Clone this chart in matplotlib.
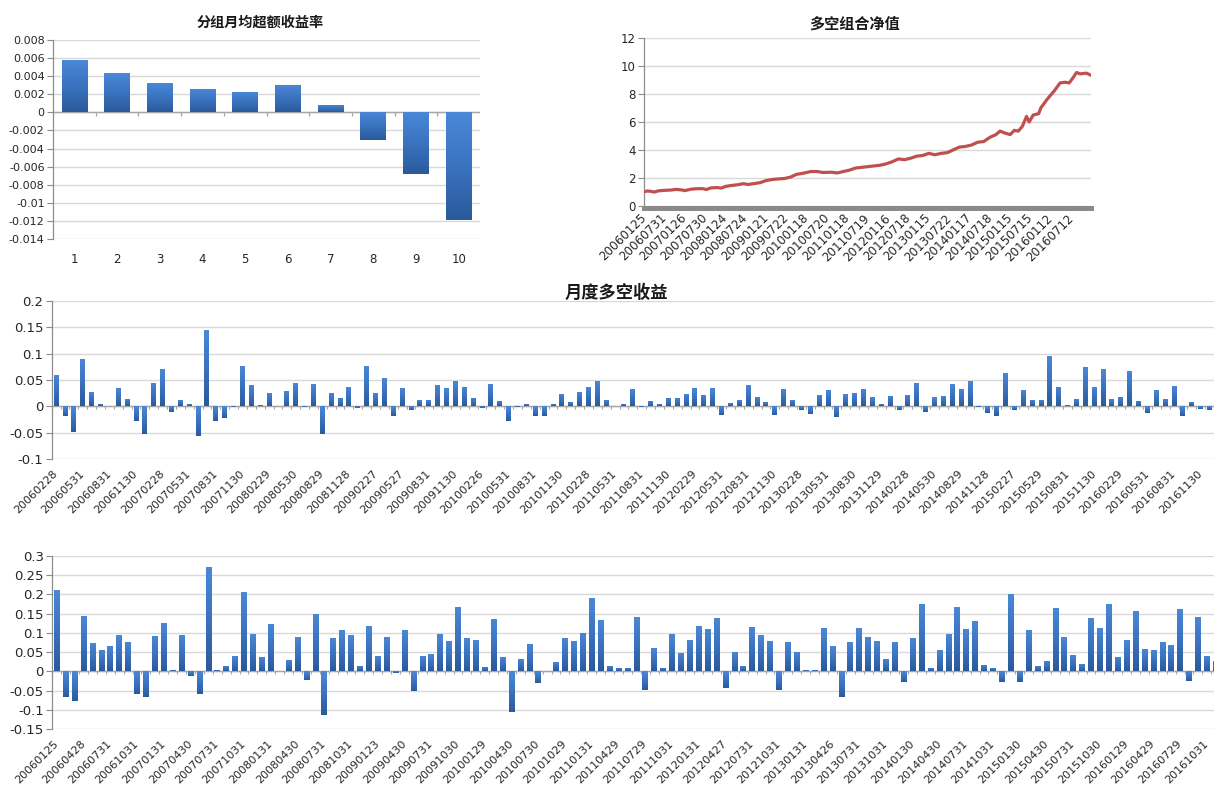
import numpy as np
import matplotlib
matplotlib.use('Agg')
import matplotlib.pyplot as plt
from matplotlib.colors import LinearSegmentedColormap

plt.rcParams['font.family'] = ['DejaVu Sans', 'Noto Sans CJK SC']

# ---------------- data ----------------
group_labels = ['1', '2', '3', '4', '5', '6', '7', '8', '9', '10']
group_excess = [0.0058, 0.0043, 0.0032, 0.0026, 0.0023, 0.0030, 0.0008, -0.0031, -0.0068, -0.0119]
group_yticks = [-0.014, -0.012, -0.01, -0.008, -0.006, -0.004, -0.002, 0, 0.002, 0.004, 0.006, 0.008]
group_yticklabels = ['-0.014', '-0.012', '-0.01', '-0.008', '-0.006', '-0.004', '-0.002', '0',
                     '0.002', '0.004', '0.006', '0.008']

# net value curve, x in half-year units from 20060125
nav_x = [0, 0.15, 0.3, 0.5, 0.7, 1.0, 1.3, 1.6, 1.9, 2.0, 2.3, 2.6, 2.9, 3.05, 3.3, 3.6, 3.8,
         4.0, 4.3, 4.6, 4.9, 5.1, 5.4, 5.7, 6.0, 6.3, 6.6, 6.9, 7.2, 7.5, 7.8, 8.2, 8.5, 8.8,
         9.2, 9.5, 9.8, 10.1, 10.4, 10.7, 11.0, 11.3, 11.6, 11.9, 12.2, 12.5, 12.8, 13.1, 13.4,
         13.7, 14.0, 14.3, 14.6, 14.9, 15.2, 15.5, 15.8, 16.1, 16.4, 16.7, 17.0, 17.3, 17.5,
         17.75, 18.0, 18.2, 18.4, 18.6, 18.8, 18.93, 19.13, 19.4, 19.5, 19.8, 20.03, 20.15,
         20.45, 20.7, 20.9, 21.1, 21.26, 21.43, 21.75, 21.97]
nav_y = [1.0, 1.05, 1.04, 0.98, 1.06, 1.1, 1.12, 1.17, 1.12, 1.08, 1.18, 1.22, 1.22, 1.16, 1.28,
         1.3, 1.26, 1.38, 1.45, 1.5, 1.58, 1.52, 1.58, 1.65, 1.8, 1.88, 1.92, 1.95, 2.05, 2.25,
         2.32, 2.45, 2.45, 2.38, 2.4, 2.35, 2.45, 2.55, 2.7, 2.75, 2.8, 2.85, 2.9, 3.0, 3.15,
         3.35, 3.3, 3.4, 3.55, 3.6, 3.75, 3.65, 3.75, 3.8, 4.0, 4.2, 4.25, 4.35, 4.55, 4.6,
         4.9, 5.1, 5.35, 5.2, 5.1, 5.4, 5.35, 5.7, 6.4, 6.0, 6.5, 6.6, 7.0, 7.6, 8.0, 8.2,
         8.8, 8.85, 8.8, 9.2, 9.55, 9.45, 9.5, 9.35]
nav_ticklabels = ['20060125', '20060731', '20070126', '20070730', '20080124', '20080724',
                  '20090121', '20090722', '20100118', '20100720', '20110118', '20110719',
                  '20120116', '20120718', '20130115', '20130722', '20140117', '20140718',
                  '20150115', '20150715', '20160112', '20160712']
nav_yticks = [0, 2, 4, 6, 8, 10, 12]

monthly_ls = [0.060, -0.018, -0.048, 0.090, 0.028, 0.005, 0.000, 0.034, 0.015, -0.028,
              -0.052, 0.045, 0.070, -0.010, 0.012, 0.005, -0.056, 0.145, -0.027, -0.022,
              -0.001, 0.076, 0.040, 0.003, 0.025, 0.000, 0.030, 0.044, -0.001, 0.042,
              -0.053, 0.025, 0.016, 0.036, -0.003, 0.077, 0.026, 0.053, -0.018, 0.035,
              -0.006, 0.013, 0.0125, 0.041, 0.034, 0.0475, 0.036, 0.016, -0.0025, 0.043,
              0.011, -0.028, -0.002, 0.005, -0.0175, -0.0175, 0.005, 0.024, 0.009, 0.028,
              0.037, 0.0475, 0.013, 0.001, 0.004, 0.033, -0.001, 0.011, 0.0045, 0.016,
              0.016, 0.023, 0.034, 0.022, 0.034, -0.016, 0.007, 0.013, 0.041, 0.017,
              0.009, -0.016, 0.033, 0.013, -0.0075, -0.0145, 0.022, 0.031, -0.020, 0.023,
              0.025, 0.033, 0.017, 0.0045, 0.0205, -0.007, 0.022, 0.045, -0.011, 0.017,
              0.019, 0.042, 0.033, 0.049, -0.002, -0.0125, -0.019, 0.064, -0.0075, 0.032,
              0.012, 0.012, 0.095, 0.037, 0.002, 0.0145, 0.074, 0.037, 0.071, 0.0145,
              0.018, 0.0675, 0.011, -0.0125, 0.032, 0.0145, 0.038, -0.0175, 0.009, -0.005,
              -0.007]
monthly_ticklabels = ['20060228', '20060531', '20060831', '20061130', '20070228', '20070531',
                      '20070831', '20071130', '20080229', '20080530', '20080829', '20081128',
                      '20090227', '20090527', '20090831', '20091130', '20100226', '20100531',
                      '20100831', '20101130', '20110228', '20110531', '20110831', '20111130',
                      '20120229', '20120531', '20120831', '20121130', '20130228', '20130531',
                      '20130830', '20131129', '20140228', '20140530', '20140829', '20141128',
                      '20150227', '20150529', '20150831', '20151130', '20160229', '20160531',
                      '20160831', '20161130']
monthly_yticks = [-0.1, -0.05, 0, 0.05, 0.1, 0.15, 0.2]
monthly_yticklabels = ['-0.1', '-0.05', '0', '0.05', '0.1', '0.15', '0.2']

bottom_vals = [0.210, -0.066, -0.076, 0.144, 0.073, 0.056, 0.066, 0.095, 0.0765, -0.058,
               -0.065, 0.091, 0.125, 0.004, 0.095, -0.011, -0.058, 0.272, 0.005, 0.015,
               0.040, 0.207, 0.098, 0.038, 0.122, 0.000, 0.030, 0.089, -0.021, 0.150,
               -0.113, 0.087, 0.1075, 0.095, 0.013, 0.119, 0.040, 0.089, -0.005, 0.1075,
               -0.051, 0.040, 0.044, 0.096, 0.080, 0.168, 0.087, 0.0825, 0.011, 0.136,
               0.038, -0.104, 0.033, 0.071, -0.030, 0.000, 0.025, 0.087, 0.079, 0.100,
               0.190, 0.134, 0.013, 0.008, 0.008, 0.141, -0.048, 0.060, 0.008, 0.098,
               0.048, 0.0825, 0.119, 0.110, 0.1375, -0.042, 0.050, 0.014, 0.115, 0.095,
               0.080, -0.048, 0.0765, 0.050, 0.004, 0.003, 0.112, 0.066, -0.066, 0.0765,
               0.112, 0.090, 0.078, 0.032, 0.0765, -0.028, 0.087, 0.1745, 0.010, 0.056,
               0.098, 0.1665, 0.110, 0.131, 0.017, 0.0095, -0.028, 0.202, -0.028, 0.108,
               0.014, 0.0275, 0.165, 0.089, 0.043, 0.0205, 0.1375, 0.112, 0.1745, 0.0385,
               0.0815, 0.156, 0.059, 0.056, 0.0765, 0.0695, 0.1615, -0.025, 0.141, 0.040,
               0.026]
bottom_ticklabels = ['20060125', '20060428', '20060731', '20061031', '20070131', '20070430',
                     '20070731', '20071031', '20080131', '20080430', '20080731', '20081031',
                     '20090123', '20090430', '20090731', '20091030', '20100129', '20100430',
                     '20100730', '20101029', '20110131', '20110429', '20110729', '20111031',
                     '20120131', '20120427', '20120731', '20121031', '20130131', '20130426',
                     '20130731', '20131031', '20140130', '20140430', '20140731', '20141031',
                     '20150130', '20150430', '20150731', '20151030', '20160129', '20160429',
                     '20160729', '20161031']
bottom_yticks = [-0.15, -0.1, -0.05, 0, 0.05, 0.1, 0.15, 0.2, 0.25, 0.3]
bottom_yticklabels = ['-0.15', '-0.1', '-0.05', '0', '0.05', '0.1', '0.15', '0.2', '0.25', '0.3']

# ---------------- style ----------------
W, H = 1214, 790
GRID = '#d9d9d9'
AXC = '#8c8c8c'
ZERO = '#a6a6a6'
TXT = '#262626'
CJK = ['Noto Sans CJK SC', 'DejaVu Sans']
cmap = LinearSegmentedColormap.from_list('blu', ['#2b5a9b', '#3a73bf', '#4a88d8'])

fig = plt.figure(figsize=(W / 100, H / 100), dpi=100)


def rect(l, t, r, b):
    return [l / W, 1 - b / H, (r - l) / W, (b - t) / H]


def grad_bars(ax, x, h, width):
    bars = ax.bar(x, h, width, color='#3a73bf', edgecolor='none', zorder=2)
    g = np.linspace(0, 1, 64).reshape(-1, 1)
    for b in bars:
        hh = b.get_height()
        if hh == 0:
            continue
        x0, y0 = b.get_x(), b.get_y()
        lo, hi = min(y0, y0 + hh), max(y0, y0 + hh)
        im = ax.imshow(g, extent=[x0, x0 + b.get_width(), lo, hi], origin='lower',
                       cmap=cmap, aspect='auto', zorder=3, interpolation='bilinear')
        im.set_clip_path(b)
    return bars


def base_style(ax, yticks, yticklabels, ylim, ysize):
    for s in ['top', 'right', 'bottom']:
        ax.spines[s].set_visible(False)
    ax.spines['left'].set_color(AXC)
    ax.spines['left'].set_linewidth(0.9)
    ax.set_ylim(ylim)
    ax.set_yticks(yticks)
    ax.set_yticklabels(yticklabels)
    ax.grid(axis='y', color=GRID, lw=1.0)
    ax.set_axisbelow(True)
    ax.tick_params(axis='y', length=4, width=0.8, color=AXC, labelsize=ysize,
                   labelcolor=TXT, pad=2)
    ax.tick_params(axis='x', length=0, labelcolor=TXT)


# ---- top-left: group average excess return ----
ax1 = fig.add_axes(rect(53, 40, 480, 239))
xg = np.arange(1, len(group_excess) + 1)
grad_bars(ax1, xg, group_excess, 0.6)
base_style(ax1, group_yticks, group_yticklabels, (-0.014, 0.008), 8)
ax1.axhline(0, color=ZERO, lw=1.0, zorder=1.5)
ax1.vlines(np.arange(0.5, len(group_excess) + 1), -0.00045, 0, color=ZERO, lw=0.9, zorder=1.5)
ax1.set_xlim(0.5, len(group_excess) + 0.5)
ax1.set_xticks(xg)
ax1.set_xticklabels(group_labels, fontsize=8.5)
ax1.tick_params(axis='x', pad=10)
fig.text(260 / W, 1 - 23 / H, '分组月均超额收益率', ha='center', va='center',
         fontsize=10.2, fontweight='bold', family=CJK, color='#1a1a1a')

# ---- top-right: long-short net value ----
ax2 = fig.add_axes(rect(644, 38.3, 1091, 205.7))
ax2.plot(nav_x, nav_y, color='#c0504d', lw=2.3, zorder=3, solid_joinstyle='round')
base_style(ax2, nav_yticks, [str(v) for v in nav_yticks], (0, 12), 8.5)
ax2.spines['bottom'].set_visible(True)
ax2.spines['bottom'].set_color('#8a8a8a')
ax2.spines['bottom'].set_linewidth(3.6)
ax2.spines['bottom'].set_position(('outward', 1.5))
ax2.set_xlim(0, 21.97)
ax2.set_xticks(np.arange(len(nav_ticklabels)))
ax2.set_xticklabels(nav_ticklabels, rotation=45, ha='right', va='center',
                    rotation_mode='anchor', fontsize=8.6)
ax2.tick_params(axis='x', length=0, pad=6)
fig.text(855 / W, 1 - 24 / H, '多空组合净值', ha='center', va='center',
         fontsize=10.9, fontweight='bold', family=CJK, color='#1a1a1a')

# ---- middle: monthly long-short return ----
ax3 = fig.add_axes(rect(51.7, 300.7, 1214, 459.3))
xm = np.arange(len(monthly_ls))
grad_bars(ax3, xm, monthly_ls, 0.56)
base_style(ax3, monthly_yticks, monthly_yticklabels, (-0.1, 0.2), 9.5)
ax3.axhline(0, color=ZERO, lw=1.0, zorder=1.5)
ax3.vlines(np.arange(-0.5, len(monthly_ls)), -0.005, 0, color=ZERO, lw=0.8, zorder=1.5)
ax3.set_xlim(-0.5, len(monthly_ls) - 0.5)
ax3.set_xticks(np.arange(0, len(monthly_ls), 3))
ax3.set_xticklabels(monthly_ticklabels, rotation=45, ha='right', va='center',
                    rotation_mode='anchor', fontsize=8.0)
ax3.tick_params(axis='x', pad=9)
fig.text(616 / W, 1 - 293 / H, '月度多空收益', ha='center', va='center',
         fontsize=12.4, fontweight='bold', family=CJK, color='#1a1a1a')

# ---- bottom ----
ax4 = fig.add_axes(rect(52.3, 555.7, 1214, 729.3))
xb = np.arange(len(bottom_vals))
grad_bars(ax4, xb, bottom_vals, 0.62)
base_style(ax4, bottom_yticks, bottom_yticklabels, (-0.15, 0.3), 9.5)
ax4.axhline(0, color=ZERO, lw=1.0, zorder=1.5)
ax4.vlines(np.arange(-0.5, len(bottom_vals)), -0.007, 0, color=ZERO, lw=0.8, zorder=1.5)
ax4.set_xlim(-0.5, 129.8)
ax4.set_xticks(np.arange(0, len(bottom_vals) - 1, 3))
ax4.set_xticklabels(bottom_ticklabels, rotation=45, ha='right', va='center',
                    rotation_mode='anchor', fontsize=8.0)
ax4.tick_params(axis='x', pad=9)

fig.savefig('out.png', dpi=100, facecolor='white')
